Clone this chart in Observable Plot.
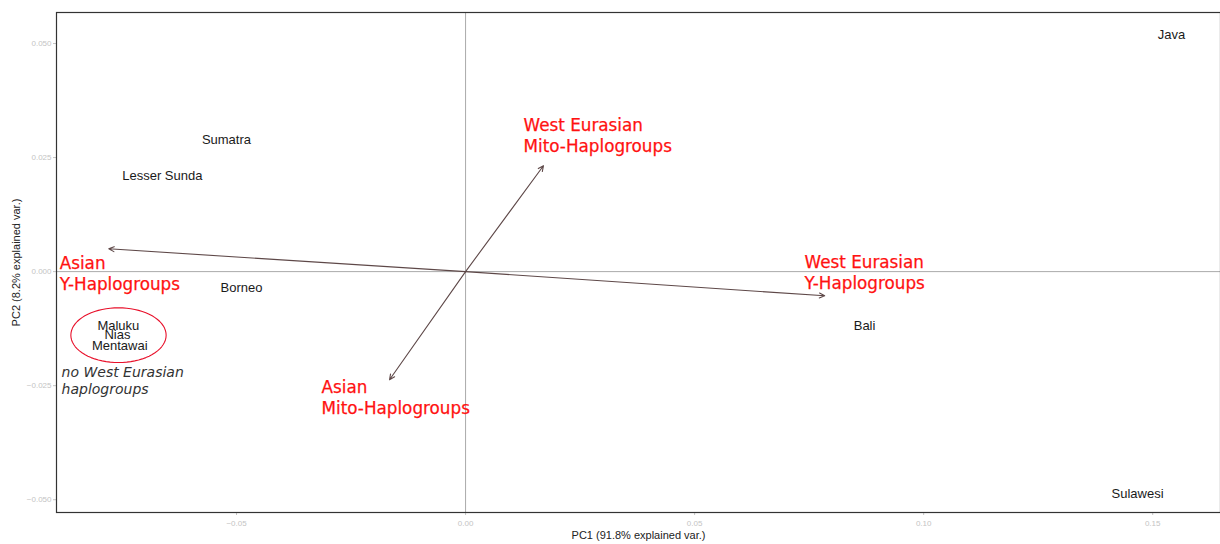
<!DOCTYPE html>
<html>
<head>
<meta charset="utf-8">
<script src="https://cdn.jsdelivr.net/npm/d3@7"></script>
<script src="https://cdn.jsdelivr.net/npm/@observablehq/plot@0.6"></script>
<style>
  html, body { margin: 0; padding: 0; background: #fff; }
  #chart svg { display: block; }
</style>
</head>
<body>
<div id="chart"></div>
<script>
// Population scores (PC1, PC2)
const regions = ["Java", "Sumatra", "Lesser Sunda", "Borneo", "Maluku", "Nias", "Mentawai", "Bali", "Sulawesi"];
const pc1 = [0.1541, -0.0522, -0.0662, -0.0489, -0.0758, -0.0760, -0.0755, 0.0871, 0.1467];
const pc2 = [0.0518, 0.0289, 0.0211, -0.0035, -0.0118, -0.0138, -0.0162, -0.0118, -0.0487];

// Variable loadings (arrows from origin)
const variables = ["Asian Y-Haplogroups", "West Eurasian Y-Haplogroups", "West Eurasian Mito-Haplogroups", "Asian Mito-Haplogroups"];
const loadX = [-0.0779, 0.0784, 0.0170, -0.0166];
const loadY = [0.0050, -0.0053, 0.0232, -0.0237];

// Annotation labels (text, anchor point in data units)
const annoText = ["Asian\nY-Haplogroups", "West Eurasian\nY-Haplogroups", "West Eurasian\nMito-Haplogroups", "Asian\nMito-Haplogroups"];
const annoX = [-0.0886, 0.0740, 0.01266, -0.03144];
const annoY = [-0.0003, -0.0001, 0.0300, -0.0275];

const noteText = ["no West Eurasian\nhaplogroups"];
const noteX = [-0.0882];
const noteY = [-0.0238];

// Cluster ellipse around Maluku / Nias / Mentawai
const clusterNames = ["Maluku", "Nias", "Mentawai"];
const ellipseRx = 0.0104;
const ellipseRy = 0.0060;

const xTicks = [-0.05, 0.00, 0.05, 0.10, 0.15];
const yTicks = [-0.050, -0.025, 0.000, 0.025, 0.050];
const xLabel = "PC1 (91.8% explained var.)";
const yLabel = "PC2 (8.2% explained var.)";

const points = regions.map((r, i) => ({name: r, x: pc1[i], y: pc2[i]}));
const arrows = variables.map((v, i) => ({name: v, x: loadX[i], y: loadY[i]}));
const annos = annoText.map((t, i) => ({text: t, x: annoX[i], y: annoY[i]}));
const notes = noteText.map((t, i) => ({text: t, x: noteX[i], y: noteY[i]}));

const cl = points.filter(p => clusterNames.includes(p.name));
const cx = d3.mean(cl, d => d.x), cy = d3.mean(cl, d => d.y);
const ellipse = d3.range(0, 361, 5).map(a => ({
  x: cx + ellipseRx * Math.cos(a * Math.PI / 180),
  y: cy + ellipseRy * Math.sin(a * Math.PI / 180)
}));

const chart = Plot.plot({
  width: 1220,
  height: 544,
  marginLeft: 56,
  marginRight: 0,
  marginTop: 12,
  marginBottom: 32,
  style: {background: "#fff", fontFamily: "Liberation Sans, Arial, sans-serif"},
  x: {domain: [-0.0893, 0.1648]},
  y: {domain: [-0.0528, 0.0568]},
  marks: [
    Plot.ruleX([0], {stroke: "#aaa", strokeWidth: 1}),
    Plot.ruleY([0], {stroke: "#aaa", strokeWidth: 1}),
    Plot.axisX({ticks: xTicks, tickFormat: d3.format(".2f"), fontSize: 8, color: "#c4c4c4", tickSize: 3, tickPadding: 5, label: null}),
    Plot.axisY({ticks: yTicks, tickFormat: d3.format(".3f"), fontSize: 8, color: "#c4c4c4", tickSize: 3, tickPadding: 2, label: null}),
    Plot.text([xLabel], {frameAnchor: "bottom", dy: 26, fontSize: 11, fill: "#222"}),
    Plot.text([yLabel], {frameAnchor: "left", textAnchor: "middle", rotate: -90, dx: -40, fontSize: 11, fill: "#222"}),
    Plot.arrow(arrows, {x1: 0, y1: 0, x2: "x", y2: "y", stroke: "#5e4848", strokeWidth: 1.1, headLength: 8, headAngle: 50}),
    Plot.text(points, {x: "x", y: "y", text: "name", fontSize: 13, fill: "#1a1a1a", lineHeight: 1}),
    Plot.line(ellipse, {x: "x", y: "y", stroke: "#e8102a", strokeWidth: 1.1}),
    Plot.text(annos, {x: "x", y: "y", text: "text", textAnchor: "start", fontSize: 16.8, lineHeight: 1.25, fill: "#ff1111", stroke: "#ff1111", strokeWidth: 0.25, fontFamily: "DejaVu Sans, sans-serif"}),
    Plot.text(notes, {x: "x", y: "y", text: "text", textAnchor: "start", fontSize: 14, lineHeight: 1.2, fill: "#333", fontStyle: "italic", fontFamily: "DejaVu Sans, sans-serif"}),
    Plot.frame({stroke: "#333", strokeWidth: 1.2})
  ]
});
document.getElementById("chart").appendChild(chart);
</script>
</body>
</html>
